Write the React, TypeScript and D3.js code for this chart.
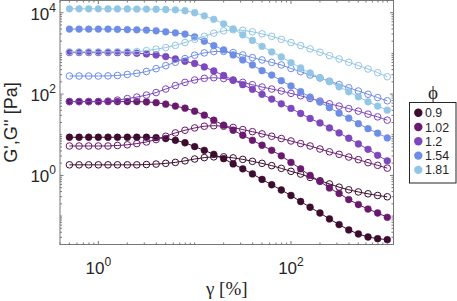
import React from "react";
import * as d3 from "d3";

// strain amplitude grid (%)
const strain = [0.501, 0.631, 0.794, 1.0, 1.26, 1.58, 2.0, 2.51, 3.16, 3.98, 5.01, 6.31, 7.94, 10, 12.6, 15.8, 20, 25.1, 31.6, 39.8, 50.1, 63.1, 79.4, 100, 126, 158, 200, 251, 316, 398, 501, 631, 794, 1000];

// G' (storage) and G'' (loss) in Pa for each volume fraction
const gp09 = [8.68, 8.68, 8.68, 8.68, 8.68, 8.68, 8.68, 8.68, 8.68, 8.53, 8.06, 7.31, 6.35, 5.11, 4.14, 3.3, 2.58, 1.92, 1.45, 1.09, 0.796, 0.589, 0.438, 0.321, 0.228, 0.165, 0.119, 0.0853, 0.0617, 0.0456, 0.0363, 0.0306, 0.0278, 0.0263];
const gpp09 = [1.82, 1.82, 1.82, 1.82, 1.82, 1.82, 1.82, 1.82, 1.85, 1.9, 1.98, 2.09, 2.28, 2.53, 2.74, 2.86, 2.86, 2.7, 2.48, 2.22, 1.98, 1.74, 1.49, 1.26, 1.08, 0.893, 0.74, 0.617, 0.514, 0.443, 0.392, 0.353, 0.321, 0.298];
const gp102 = [65.3, 65.3, 65.3, 65.3, 65.3, 65.3, 65.3, 65.3, 64.2, 61.6, 56.6, 50.6, 45.1, 38.0, 30.3, 22.8, 17.2, 12.9, 9.72, 7.31, 5.51, 4.14, 3.03, 2.09, 1.45, 1.0, 0.711, 0.491, 0.36, 0.255, 0.192, 0.149, 0.119, 0.0934];
const gpp102 = [5.29, 5.29, 5.29, 5.29, 5.29, 5.44, 5.66, 6.06, 6.64, 7.61, 9.18, 11.1, 12.9, 14.7, 16.2, 16.7, 16.2, 15.1, 13.4, 11.9, 10.5, 9.18, 8.06, 7.03, 6.06, 5.29, 4.46, 3.8, 3.3, 2.83, 2.44, 2.06, 1.77, 1.51];
const gp12 = [1050, 1050, 1050, 1050, 1050, 1045, 1040, 1010, 972, 918, 834, 731, 641, 566, 464, 370, 286, 222, 170, 131, 98.4, 75.3, 57.6, 44.4, 33.3, 25.1, 19.5, 14.7, 11.1, 8.2, 5.93, 4.39, 3.12, 2.28];
const gpp12 = [65.3, 65.3, 65.3, 65.3, 67.2, 71.1, 77.4, 84.3, 94.5, 109, 133, 162, 194, 222, 244, 253, 241, 218, 194, 170, 149, 133, 119, 104, 90.8, 78.3, 67.2, 57.6, 50.6, 43.9, 38.0, 32.1, 27.5, 22.8];
const gp154 = [3960, 3960, 3960, 3960, 3960, 3900, 3850, 3800, 3740, 3590, 3400, 3200, 2980, 2550, 2000, 1560, 1220, 918, 691, 520, 376, 294, 213, 158, 115, 84.3, 63.4, 46.4, 34.0, 25.5, 18.7, 14.1, 10.9, 8.34];
const gpp154 = [278, 278, 278, 278, 280, 286, 303, 324, 359, 421, 500, 606, 744, 903, 1030, 1110, 1120, 1050, 918, 788, 691, 600, 520, 426, 356, 294, 248, 207, 172, 143, 119, 98.9, 82, 68.4];
const gp181 = [12500, 12500, 12500, 12500, 12400, 12400, 12400, 12300, 12300, 12200, 12000, 11800, 11200, 10000, 8400, 6900, 5350, 4000, 2860, 2090, 1490, 1090, 820, 593, 439, 330, 253, 201, 151, 114, 85.8, 64.6, 50.6, 40.3];
const gpp181 = [1090, 1090, 1090, 1090, 1090, 1095, 1100, 1110, 1170, 1270, 1390, 1580, 1850, 2220, 2630, 3150, 3590, 3800, 3700, 3400, 3030, 2630, 2220, 1850, 1560, 1290, 1070, 883, 731, 606, 500, 414, 336, 267];

const phiLabels = ["0.9", "1.02", "1.2", "1.54", "1.81"];
const colors = ["#3c0d2e", "#6a1a6c", "#7d47bd", "#6e8de6", "#92c6e4"];
const storage = [gp09, gp102, gp12, gp154, gp181];
const loss = [gpp09, gpp102, gpp12, gpp154, gpp181];

const xMajor = [1, 100];
const yMajor = [1, 100, 10000];

const W = 457;
const H = 301;
const left = 60, right = 393.5, top = 0.5, bottom = 244.5;

const sans = "'Liberation Sans', Arial, sans-serif";
const serif = "'Liberation Serif', 'Times New Roman', serif";

export default function App() {
  const x = d3.scaleLog().domain([0.4, 1160]).range([left, right]);
  const y = d3.scaleLog().domain([0.02, 20000]).range([bottom, top]);

  const line = d3.line<number>()
    .x((d, i) => x(strain[i]))
    .y(d => y(d));

  const xMinor = x.ticks().filter(t => !xMajor.includes(t));
  const yMinor = y.ticks().filter(t => !yMajor.some(m => Math.abs(m - t) < 1e-9));

  const axisColor = "#777";
  const majorLen = 3.5, minorLen = 2;
  const legStep = 14.3;

  return (
    <svg width={W} height={H} style={{ position: "absolute", left: 0, top: 0, background: "#fff" }}>
      <rect x={left} y={top} width={right - left} height={bottom - top} fill="#fff" />

      {/* data */}
      <g>
        {phiLabels.map((p, k) => (
          <g key={p}>
            <path d={line(storage[k]) || ""} fill="none" stroke={colors[k]} strokeWidth={1} />
            {storage[k].map((v, i) => (
              <circle key={"s" + i} cx={x(strain[i])} cy={y(v)} r={3.4} fill={colors[k]} stroke={colors[k]} strokeWidth={0.5} />
            ))}
            <path d={line(loss[k]) || ""} fill="none" stroke={colors[k]} strokeWidth={1} />
            {loss[k].map((v, i) => (
              <circle key={"l" + i} cx={x(strain[i])} cy={y(v)} r={3.3} fill="none" stroke={colors[k]} strokeWidth={1} />
            ))}
          </g>
        ))}
      </g>

      {/* box and ticks */}
      <rect x={left} y={top} width={right - left} height={bottom - top} fill="none" stroke={axisColor} strokeWidth={1} />
      <g stroke={axisColor} strokeWidth={1}>
        {xMinor.map(t => (
          <g key={"xm" + t}>
            <line x1={x(t)} x2={x(t)} y1={bottom} y2={bottom - minorLen} />
            <line x1={x(t)} x2={x(t)} y1={top} y2={top + minorLen} />
          </g>
        ))}
        {xMajor.map(t => (
          <g key={"xM" + t}>
            <line x1={x(t)} x2={x(t)} y1={bottom} y2={bottom - majorLen} />
            <line x1={x(t)} x2={x(t)} y1={top} y2={top + majorLen} />
          </g>
        ))}
        {yMinor.map(t => (
          <g key={"ym" + t}>
            <line x1={left} x2={left + minorLen} y1={y(t)} y2={y(t)} />
            <line x1={right} x2={right - minorLen} y1={y(t)} y2={y(t)} />
          </g>
        ))}
        {yMajor.map(t => (
          <g key={"yM" + t}>
            <line x1={left} x2={left + majorLen} y1={y(t)} y2={y(t)} />
            <line x1={right} x2={right - majorLen} y1={y(t)} y2={y(t)} />
          </g>
        ))}
      </g>

      {/* tick labels */}
      <g fontFamily={sans} fill="#262626">
        {xMajor.map(t => (
          <text key={"xl" + t} x={x(t)} y={274} textAnchor="middle" fontSize={17}>
            10<tspan dy={-8} fontSize={12}>{Math.round(Math.log10(t))}</tspan>
          </text>
        ))}
        {yMajor.map(t => (
          <text key={"yl" + t} x={56} y={y(t) + 7} textAnchor="end" fontSize={17}>
            10<tspan dy={-8} fontSize={12}>{Math.round(Math.log10(t))}</tspan>
          </text>
        ))}
      </g>

      {/* axis titles */}
      <text x={(left + right) / 2} y={295} textAnchor="middle" fontFamily={serif} fontSize={19} fill="#262626">γ [%]</text>
      <text transform={`translate(17,${(top + bottom) / 2}) rotate(-90)`} textAnchor="middle" fontFamily={sans} fontSize={18} fill="#262626">G',G'' [Pa]</text>

      {/* legend */}
      <text x={433} y={99} textAnchor="middle" fontFamily={serif} fontSize={19} fill="#262626">ϕ</text>
      <rect x={409.5} y={102.5} width={46.5} height={80.5} fill="#fff" stroke="#262626" strokeWidth={1} />
      {phiLabels.map((p, k) => (
        <g key={"lg" + p}>
          <circle cx={418.3} cy={112.7 + k * legStep} r={4.2} fill={colors[k]} />
          <text x={425} y={112.7 + k * legStep + 4.5} fontFamily={sans} fontSize={12.4} fill="#262626">{p}</text>
        </g>
      ))}
    </svg>
  );
}
